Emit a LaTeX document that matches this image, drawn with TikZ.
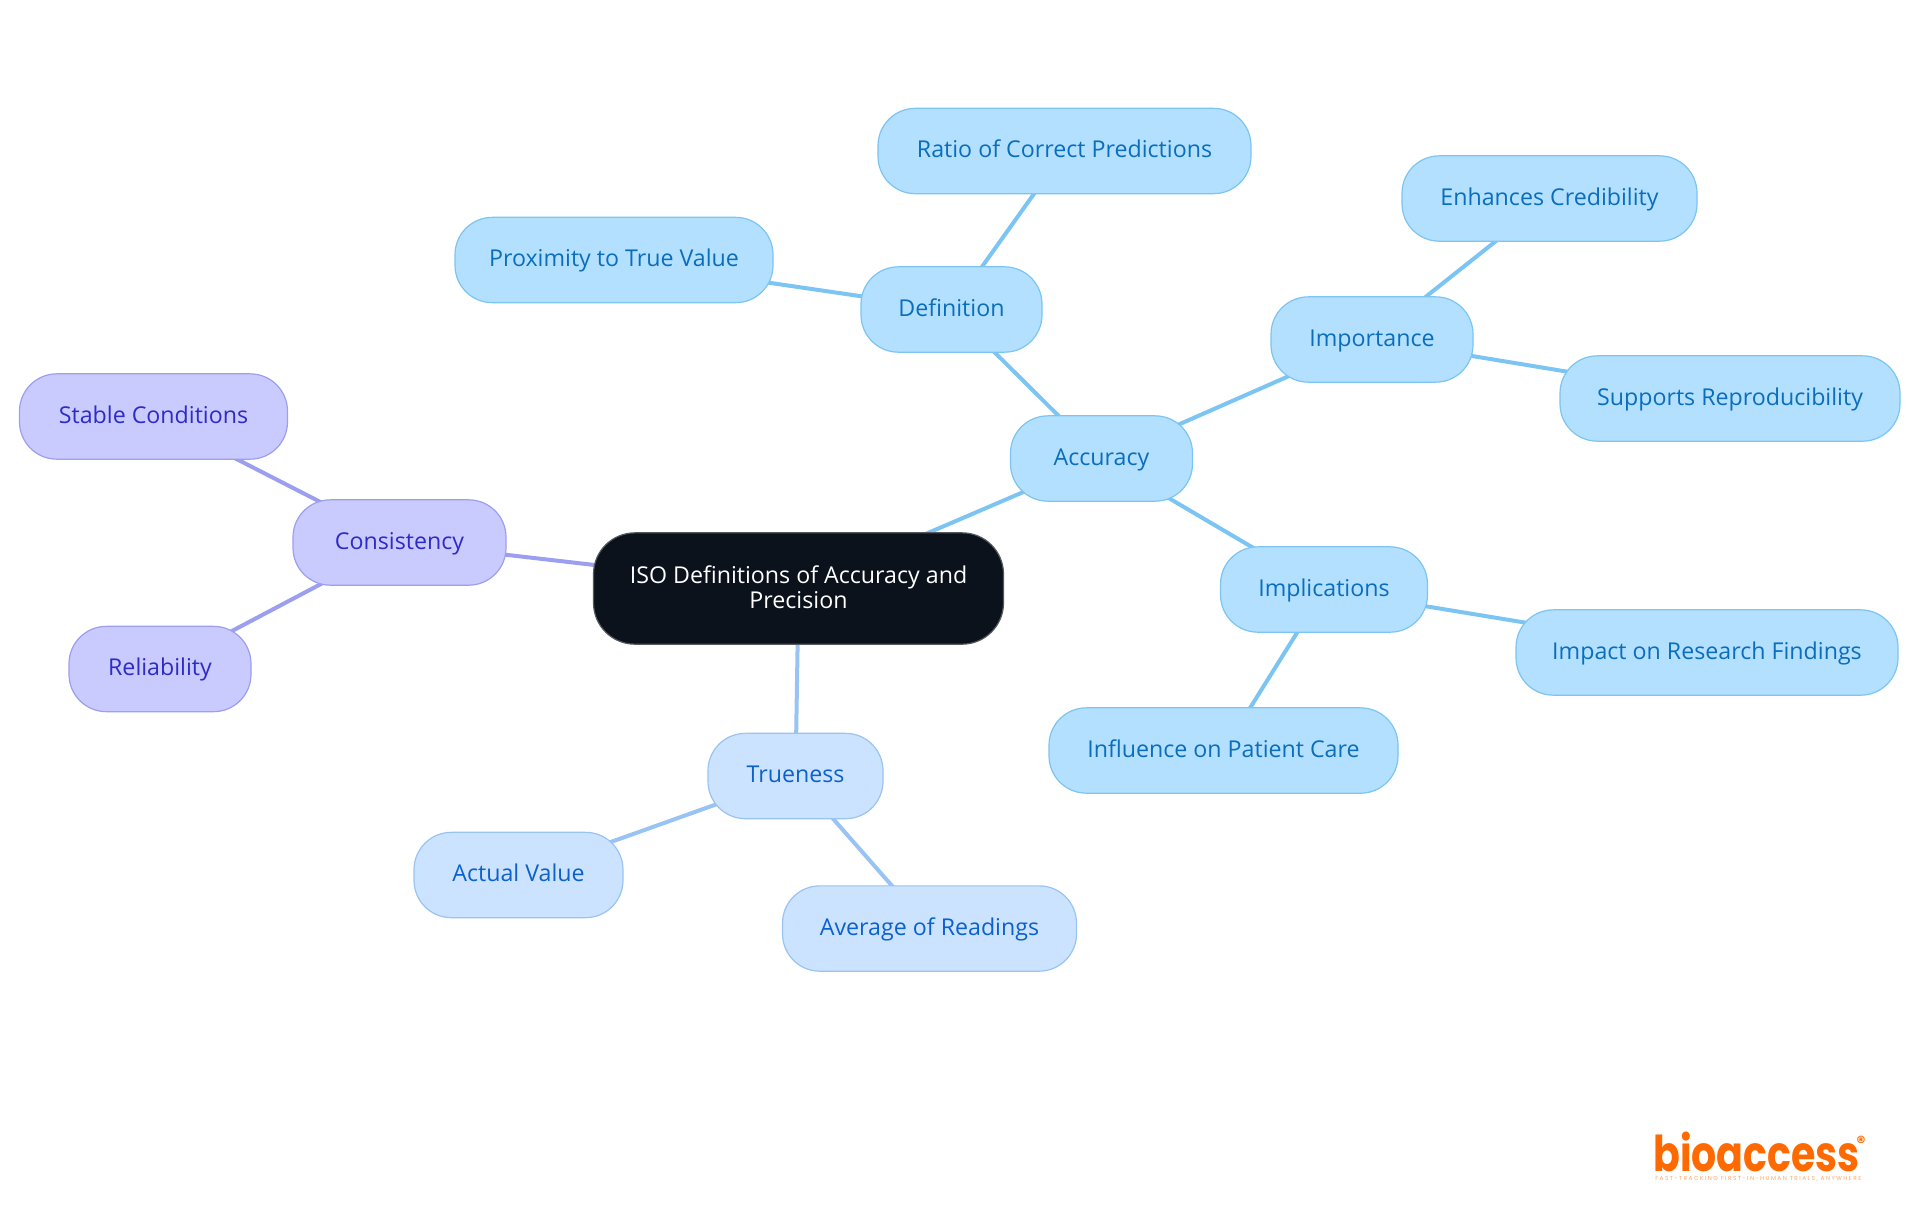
\documentclass[tikz,border=0pt]{standalone}
\usepackage{fontspec}
\setmainfont{Open Sans}
\newfontfamily\logofont{Poppins}
\usetikzlibrary{backgrounds}
\definecolor{acFill}{HTML}{B3E0FF}\definecolor{acLine}{HTML}{7CC4F2}\definecolor{acText}{HTML}{0A6EBD}
\definecolor{coFill}{HTML}{C9CBFF}\definecolor{coLine}{HTML}{9C9EF0}\definecolor{coText}{HTML}{2E2BC6}
\definecolor{trFill}{HTML}{CCE3FF}\definecolor{trLine}{HTML}{99C3F2}\definecolor{trText}{HTML}{0B62CC}
\definecolor{rootFill}{HTML}{0B121B}\definecolor{logoOrange}{HTML}{FF6A00}
\tikzset{
  x=0.75pt,y=-0.75pt,
  box/.style={rectangle,rounded corners=28pt,inner sep=0pt,line width=0.9pt,align=center,
    font=\fontsize{17.4}{18.75}\selectfont,minimum height=64pt},
  leaf/.style={box,text height=13pt,text depth=3.2pt},
  ac/.style={leaf,draw=acLine,fill=acFill,text=acText},
  co/.style={leaf,draw=coLine,fill=coFill,text=coText},
  tr/.style={leaf,draw=trLine,fill=trFill,text=trText},
  root/.style={box,draw=rootFill!70!white,fill=rootFill,text=white,minimum height=83.5pt,rounded corners=31pt},
  acedge/.style={draw=acLine,line width=3pt},
  coedge/.style={draw=coLine,line width=3pt},
  tredge/.style={draw=trLine,line width=3pt},
}
\begin{document}
\begin{tikzpicture}
\useasboundingbox (0,0) rectangle (1920,1215);
\node[root,minimum width=307.5pt] (r) at (798.5,588.5) {ISO Definitions of Accuracy and\\Precision\rule[-2pt]{0pt}{2pt}};
\node[ac,minimum width=136.5pt] (acc) at (1101.5,458.5) {Accuracy};
\node[ac,minimum width=135.75pt] (def) at (951.5,309.5) {Definition};
\node[ac,minimum width=279.75pt] (ratio) at (1064.5,151) {Ratio of Correct Predictions};
\node[ac,minimum width=238.5pt] (prox) at (614,260) {Proximity to True Value};
\node[ac,minimum width=151.5pt] (imp) at (1372,339.5) {Importance};
\node[ac,minimum width=221.25pt] (enh) at (1549.5,198.5) {Enhances Credibility};
\node[ac,minimum width=255pt] (sup) at (1730,398.5) {Supports Reproducibility};
\node[ac,minimum width=155.25pt] (impl) at (1324,589.5) {Implications};
\node[ac,minimum width=286.5pt] (fin) at (1707,652.5) {Impact on Research Findings};
\node[ac,minimum width=261.75pt] (pat) at (1223.5,750.5) {Influence on Patient Care};
\node[tr,minimum width=131.25pt] (tru) at (795.5,776) {Trueness};
\node[tr,minimum width=156.75pt] (act) at (518.5,875) {Actual Value};
\node[tr,minimum width=220.5pt] (avg) at (929.5,928.5) {Average of Readings};
\node[co,minimum width=159.75pt] (con) at (399.5,542.5) {Consistency};
\node[co,minimum width=201pt] (sta) at (153.5,416.5) {Stable Conditions};
\node[co,minimum width=136.5pt] (rel) at (160,669) {Reliability};
\begin{scope}[on background layer]
\draw[acedge] (r.center)--(acc.center);
\draw[acedge] (acc.center)--(def.center);
\draw[acedge] (def.center)--(ratio.center);
\draw[acedge] (def.center)--(prox.center);
\draw[acedge] (acc.center)--(imp.center);
\draw[acedge] (imp.center)--(enh.center);
\draw[acedge] (imp.center)--(sup.center);
\draw[acedge] (acc.center)--(impl.center);
\draw[acedge] (impl.center)--(fin.center);
\draw[acedge] (impl.center)--(pat.center);
\draw[tredge] (r.center)--(tru.center);
\draw[tredge] (tru.center)--(act.center);
\draw[tredge] (tru.center)--(avg.center);
\draw[coedge] (r.center)--(con.center);
\draw[coedge] (con.center)--(sta.center);
\draw[coedge] (con.center)--(rel.center);
\end{scope}
\node[anchor=base west,inner sep=0pt,text=logoOrange,font=\logofont\bfseries\fontsize{29.6}{30}\selectfont] (logo) at (1653,1171) {\scalebox{1}[1.25]{bioaccess}};
\node[inner sep=0pt,text=logoOrange,font=\logofont\bfseries\fontsize{13}{13}\selectfont] (reg) at (1861,1142) {®};
\node[anchor=west,inner sep=0pt,text=logoOrange!60,font=\logofont\fontsize{4.3}{4.3}\selectfont\addfontfeature{LetterSpace=26}] (tag) at (1655,1179) {FAST-TRACKING FIRST-IN-HUMAN TRIALS, ANYWHERE};
\end{tikzpicture}
\end{document}
